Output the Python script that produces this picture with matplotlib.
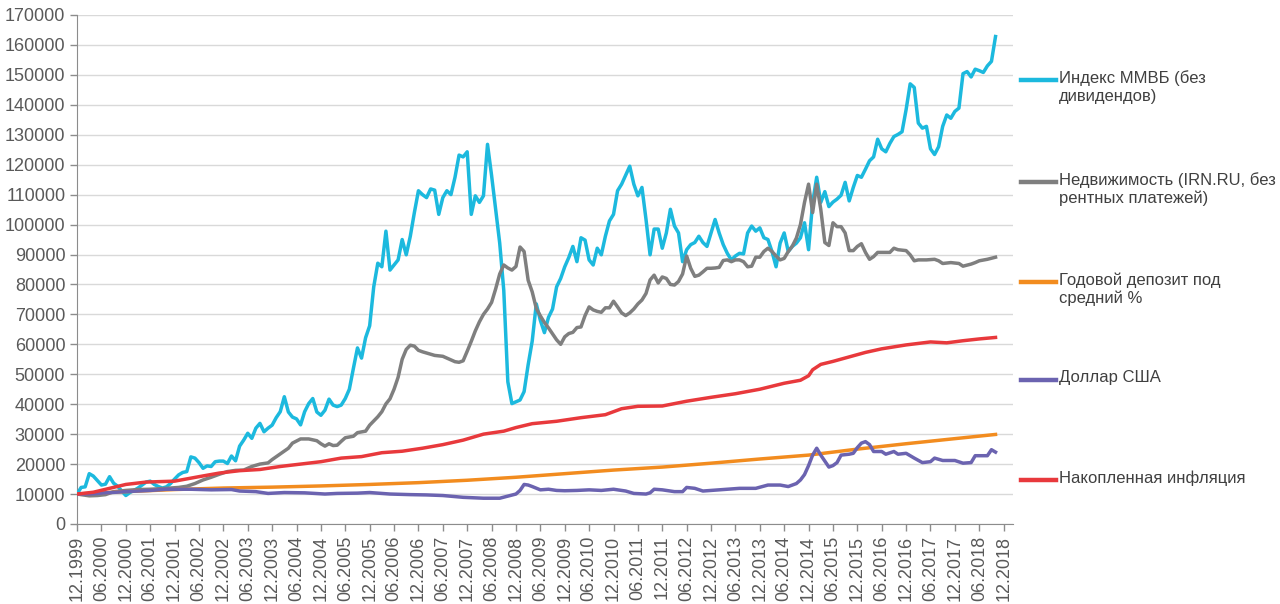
import numpy as np
import matplotlib
matplotlib.use('Agg')
import matplotlib.pyplot as plt
from matplotlib.lines import Line2D

plt.rcParams['font.family'] = ['Liberation Sans', 'DejaVu Sans']

# months counted from 12.1999, values in thousands of rubles
mmvb_m = list(range(0, 227))
mmvb_v = [10.0, 12.2, 12.4, 16.8, 16.0, 14.5, 13.0, 13.3, 15.8, 13.6, 12.6, 11.0, 9.5, 10.5,
          11.2, 12.0, 13.0, 14.0, 14.3, 13.2, 12.5, 12.0, 12.4, 13.5, 15.0, 16.4, 17.2, 17.5,
          22.4, 22.0, 20.5, 18.6, 19.4, 19.2, 20.8, 21.0, 21.0, 20.2, 22.7, 21.1, 26.0, 28.0,
          30.3, 28.6, 32.0, 33.6, 30.8, 32.0, 33.0, 35.5, 37.5, 42.5, 37.4, 35.7, 35.1, 33.1,
          37.5, 40.2, 41.9, 37.4, 36.3, 38.0, 41.7, 39.7, 39.2, 39.7, 41.9, 45.0, 52.0, 58.8,
          55.4, 62.2, 66.2, 79.2, 87.1, 85.9, 97.8, 84.8, 86.5, 88.2, 95.0, 89.9, 96.1, 104.0,
          111.3, 110.0, 109.0, 111.9, 111.5, 103.4, 109.0, 111.3, 110.0, 115.8, 123.2, 122.6,
          124.3, 103.4, 109.6, 107.4, 109.6, 126.8, 116.4, 105.1, 93.8, 78.0, 47.5, 40.2,
          40.8, 41.4, 44.2, 53.2, 61.1, 73.5, 68.0, 63.9, 69.0, 71.8, 79.2, 82.0, 85.9, 89.0,
          92.7, 87.6, 95.6, 94.8, 88.2, 86.5, 92.1, 89.9, 96.1, 101.2, 103.4, 111.3, 113.5,
          116.5, 119.5, 113.5, 109.6, 112.4, 101.7, 89.9, 98.5, 98.5, 92.1, 97.2, 105.1,
          99.5, 97.2, 87.6, 91.6, 93.3, 94.0, 96.1, 94.0, 92.7, 97.2, 101.7, 97.2, 93.3, 90.4,
          88.2, 89.5, 90.4, 90.2, 97.2, 99.5, 97.8, 98.9, 95.6, 95.0, 91.0, 85.9, 93.8, 97.2,
          91.0, 92.7, 93.8, 95.6, 100.6, 91.6, 107.4, 115.8, 107.4, 111.0, 106.0, 107.5, 108.5,
          109.8, 114.1, 107.9, 112.4, 116.4, 115.8, 118.5, 121.3, 122.6, 128.5, 125.3, 124.3,
          127.1, 129.4, 130.1, 131.0, 138.4, 147.0, 145.8, 133.9, 132.2, 132.8, 125.3, 123.4,
          126.0, 132.8, 136.6, 135.5, 137.8, 138.9, 150.4, 151.1, 149.3, 151.9, 151.4, 150.8,
          153.0, 154.5, 162.8]

realty_m = [0, 2, 3, 5, 7, 9, 12, 15, 18, 22, 25, 27, 29, 31, 33, 35, 37, 39, 41, 43, 45,
            47, 48, 50, 52, 53, 55, 57, 59, 60, 61, 62, 63, 64, 65, 66, 68, 69, 71, 72, 74,
            75, 76, 77, 78, 79, 80, 81, 82, 83, 84, 85, 86, 88, 90, 92, 93, 94, 95, 96, 97,
            98, 99, 100, 101, 102, 103, 104, 105, 106, 107, 108, 109, 110, 111, 112, 113, 114,
            115, 116, 117, 118, 119, 120, 121, 122, 123, 124, 125, 126, 127, 128, 129, 130,
            131, 132, 133, 134, 135, 136, 137, 138, 139, 140, 141, 142, 143, 144, 145, 146,
            147, 148, 149, 150, 151, 152, 153, 154, 155, 156, 157, 158, 159, 160, 161, 162,
            163, 164, 165, 166, 167, 168, 169, 170, 171, 172, 173, 174, 175, 176, 177, 178,
            179, 180, 181, 182, 183, 184, 185, 186, 187, 188, 189, 190, 191, 192, 193, 194,
            195, 196, 197, 199, 200, 201, 202, 204, 205, 206, 207, 209, 211, 212, 213, 215,
            217, 218, 220, 221, 222, 224, 226]
realty_v = [10.0, 9.6, 9.4, 9.5, 9.8, 10.8, 11.2, 11.5, 11.6, 11.9, 12.2, 12.6, 13.5, 14.7,
            15.6, 16.6, 17.5, 17.9, 18.0, 19.2, 20.0, 20.4, 21.5, 23.4, 25.3, 27.0, 28.4, 28.4,
            27.8, 26.8, 26.0, 26.8, 26.2, 26.3, 27.6, 28.8, 29.3, 30.5, 31.0, 33.0, 35.8, 37.5,
            40.1, 41.8, 45.0, 49.0, 55.0, 58.3, 59.7, 59.4, 58.0, 57.5, 57.1, 56.3, 56.0, 54.8,
            54.2, 54.0, 54.5, 57.7, 61.0, 64.5, 67.5, 70.0, 71.8, 74.0, 78.5, 83.5, 86.5, 85.5,
            84.8, 86.0, 92.5, 91.0, 81.4, 77.5, 72.0, 69.5, 67.3, 65.5, 63.5, 61.5, 60.0, 62.5,
            63.6, 64.0, 65.6, 65.8, 69.6, 72.5, 71.5, 71.0, 70.7, 72.2, 72.2, 74.4, 72.5, 70.5,
            69.6, 70.5, 71.8, 73.5, 74.8, 77.0, 81.5, 83.1, 80.5, 82.5, 82.0, 80.0, 79.8, 81.0,
            83.5, 89.5, 85.4, 82.7, 83.1, 84.2, 85.4, 85.4, 85.5, 85.7, 88.0, 88.2, 87.6, 88.2,
            88.2, 87.6, 85.9, 86.1, 89.1, 89.1, 91.0, 92.1, 91.0, 89.5, 88.2, 88.7, 91.0, 92.8,
            95.5, 100.0, 107.4, 113.5, 104.0, 113.5, 105.1, 94.0, 93.0, 100.6, 99.3, 99.3, 97.2,
            91.3, 91.3, 92.7, 93.6, 90.7, 88.4, 89.3, 90.7, 90.7, 90.7, 92.1, 91.6, 91.3, 89.9,
            87.9, 88.2, 88.2, 88.4, 87.9, 87.0, 87.3, 87.0, 86.1, 86.8, 87.3, 87.9, 88.4, 89.1]

deposit_m = [0, 12, 24, 36, 48, 60, 72, 84, 96, 108, 120, 132, 144, 156, 168, 180, 192,
             204, 216, 226]
deposit_v = [10.0, 10.8, 11.5, 12.0, 12.3, 12.7, 13.2, 13.8, 14.6, 15.6, 16.8, 18.0, 19.0,
             20.3, 21.7, 23.0, 25.0, 26.8, 28.5, 29.9]

usd_m = [0, 3, 6, 12, 18, 22, 28, 33, 38, 40, 44, 47, 51, 56, 61, 64, 69, 72, 77, 82, 86,
         90, 95, 100, 104, 106, 108, 109, 110, 111, 112, 114, 116, 118, 120, 123, 126, 129,
         132, 135, 137, 140, 141, 142, 144, 147, 149, 150, 152, 154, 158, 163, 167, 170, 173,
         175, 177, 178, 179, 180, 181, 182, 183, 185, 186, 187, 188, 190, 191, 192, 193, 194,
         195, 196, 198, 199, 201, 202, 204, 206, 208, 210, 211, 213, 216, 218, 220, 221, 224,
         225, 226]
usd_v = [10.0, 10.0, 10.3, 10.8, 11.2, 11.6, 11.6, 11.4, 11.5, 11.0, 10.8, 10.2, 10.5, 10.4,
         10.0, 10.2, 10.3, 10.5, 10.0, 9.8, 9.7, 9.5, 8.9, 8.6, 8.6, 9.3, 10.0, 11.2, 13.2,
         13.0, 12.5, 11.4, 11.6, 11.2, 11.1, 11.2, 11.4, 11.2, 11.6, 11.0, 10.2, 10.0, 10.4,
         11.6, 11.4, 10.8, 10.8, 12.2, 11.9, 11.0, 11.4, 11.9, 11.9, 13.0, 13.0, 12.5, 13.5,
         14.7, 16.5, 19.5, 23.0, 25.3, 23.0, 19.0, 19.5, 20.5, 23.0, 23.3, 23.6, 25.5, 27.0,
         27.5, 26.5, 24.2, 24.2, 23.3, 24.2, 23.3, 23.6, 22.0, 20.5, 20.8, 22.0, 21.2, 21.2,
         20.3, 20.5, 22.8, 22.8, 24.8, 24.0]

infl_m = [0, 4, 8, 12, 17, 24, 30, 35, 40, 45, 50, 55, 60, 65, 70, 75, 80, 85, 90, 95, 100,
          105, 108, 112, 118, 124, 130, 134, 138, 144, 150, 156, 162, 168, 174, 178, 180, 181,
          183, 186, 190, 194, 198, 204, 210, 214, 218, 222, 226]
infl_v = [10.0, 10.6, 11.9, 13.2, 14.0, 14.3, 15.8, 17.0, 17.8, 18.2, 19.2, 20.0, 20.8, 22.0,
          22.5, 23.8, 24.3, 25.3, 26.5, 28.0, 30.0, 31.0, 32.2, 33.5, 34.3, 35.5, 36.5, 38.5,
          39.3, 39.4, 41.0, 42.3, 43.5, 45.0, 47.0, 48.0, 49.5, 51.5, 53.3, 54.3, 55.8, 57.3,
          58.5, 59.8, 60.8, 60.5, 61.2, 61.8, 62.3]

labels = ['Индекс ММВБ (без\nдивидендов)',
          'Недвижимость (IRN.RU, без\nрентных платежей)',
          'Годовой депозит под\nсредний %',
          'Доллар США',
          'Накопленная инфляция']
colors = ['#1cb9de', '#7f7f7f', '#f28c1f', '#6b63b0', '#e8393c']

# tick labels every 6 months: 12.1999, 06.2000, ... 12.2018
tick_m = list(range(0, 229, 6))
tick_lab = []
for m in tick_m:
    if m % 12 == 0:
        tick_lab.append('12.%d' % (1999 + m // 12))
    else:
        tick_lab.append('06.%d' % (2000 + m // 12))

fig = plt.figure(figsize=(12.8, 6.04), dpi=100)
ax = fig.add_axes([0.0602, 0.1325, 0.7312, 0.8427])

series = [(mmvb_m, mmvb_v), (realty_m, realty_v), (deposit_m, deposit_v),
          (usd_m, usd_v), (infl_m, infl_v)]
for i, (m, v) in enumerate(series):
    ax.plot(m, np.array(v) * 1000, color=colors[i], lw=2.5, zorder=3 + i,
            solid_joinstyle='round')

ax.set_xlim(0, 230.3)
ax.set_ylim(0, 170000)
ax.set_yticks(np.arange(0, 170001, 10000))
ax.set_xticks(tick_m)
ax.set_xticklabels(tick_lab, rotation=90)
ax.grid(axis='y', color='#d9d9d9', lw=1)
ax.set_axisbelow(True)
for s in ['top', 'right']:
    ax.spines[s].set_visible(False)
for s in ['left', 'bottom']:
    ax.spines[s].set_color('#8c8c8c')
ax.tick_params(axis='both', colors='#8c8c8c', labelcolor='#595959', labelsize=13,
               length=5, width=1)

# legend drawn by hand so the line sits on the first text row
leg_y = [0.867, 0.699, 0.533, 0.371, 0.205]
for i in range(5):
    fig.add_artist(Line2D([0.798, 0.825], [leg_y[i], leg_y[i]], color=colors[i], lw=3.2,
                          transform=fig.transFigure))
    fig.text(0.827, leg_y[i] + 0.0165, labels[i], fontsize=12, color='#404040',
             va='top', ha='left', linespacing=1.2)

fig.savefig('out.png', dpi=100)
